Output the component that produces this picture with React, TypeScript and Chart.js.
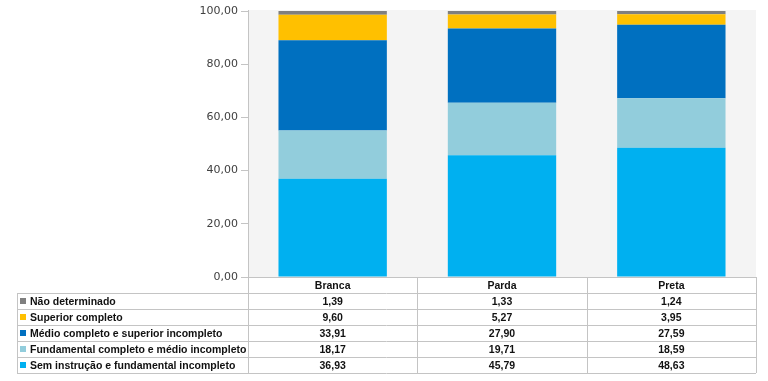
import React, { useEffect, useRef } from "react";
import { Chart, registerables } from "chart.js";

Chart.register(...registerables);

const categories = ["Branca", "Parda", "Preta"];
const semInstrucao = [36.93, 45.79, 48.63];
const fundamental = [18.17, 19.71, 18.59];
const medio = [33.91, 27.9, 27.59];
const superior = [9.6, 5.27, 3.95];
const naoDeterminado = [1.39, 1.33, 1.24];

const seriesLabels = [
  "Sem instrução e fundamental incompleto",
  "Fundamental completo e médio incompleto",
  "Médio completo e superior incompleto",
  "Superior completo",
  "Não determinado",
];
const seriesValues = [semInstrucao, fundamental, medio, superior, naoDeterminado];
const seriesColors = ["#00b0f0", "#92cddc", "#0070c0", "#ffc000", "#7f7f7f"];
const yTicks = [0, 20, 40, 60, 80, 100];

const fmt = (v: number) => v.toFixed(2).replace(".", ",");

const TABLE_FONT = "bold 10.5px 'Liberation Sans', Arial, sans-serif";
const LINE = "#c4c4c4";

const tablePlugin = {
  id: "dataTable",
  beforeDraw(chart: any) {
    const { ctx, chartArea } = chart;
    ctx.save();
    ctx.fillStyle = "#f4f4f4";
    ctx.fillRect(chartArea.left, chartArea.top - 1, chartArea.right - chartArea.left, chartArea.bottom - chartArea.top + 1);
    ctx.restore();
  },
  afterDraw(chart: any) {
    const { ctx, chartArea } = chart;
    const x = chart.scales.x;
    const n = categories.length;
    const catW = (chartArea.right - chartArea.left) / n;
    const left = 17;
    const colLeft = chartArea.left;
    const right = chartArea.right;
    const top = Math.round(chartArea.bottom);
    const rowH = 16;
    const rows = seriesLabels.length;
    const bottom = top + rowH * (rows + 1);
    const px = (v: number) => Math.round(v) + 0.5;

    ctx.save();
    ctx.strokeStyle = LINE;
    ctx.lineWidth = 1;
    ctx.beginPath();
    // header top
    ctx.moveTo(colLeft, px(top));
    ctx.lineTo(right, px(top));
    // horizontal lines
    for (let k = 1; k <= rows + 1; k++) {
      ctx.moveTo(left, px(top + rowH * k));
      ctx.lineTo(right, px(top + rowH * k));
    }
    // left border
    ctx.moveTo(px(left), top + rowH);
    ctx.lineTo(px(left), bottom);
    // column separators
    for (let i = 0; i <= n; i++) {
      const cx = colLeft + catW * i;
      ctx.moveTo(px(cx), i === 0 ? chartArea.top - 1 : top);
      ctx.lineTo(px(cx), bottom);
    }
    ctx.stroke();

    ctx.font = TABLE_FONT;
    ctx.fillStyle = "#111";
    ctx.textBaseline = "middle";
    ctx.textAlign = "center";
    categories.forEach((c, i) => {
      ctx.fillText(c, x.getPixelForValue(i), top + rowH / 2 + 1);
    });
    for (let r = 0; r < rows; r++) {
      const s = rows - 1 - r;
      const cy = top + rowH * (r + 1) + rowH / 2 + 1;
      ctx.textAlign = "center";
      ctx.fillStyle = "#111";
      seriesValues[s].forEach((v, i) => {
        ctx.fillText(fmt(v), x.getPixelForValue(i), cy);
      });
      ctx.fillStyle = seriesColors[s];
      ctx.fillRect(20, Math.round(cy - 4), 6, 6);
      ctx.fillStyle = "#111";
      ctx.textAlign = "left";
      ctx.fillText(seriesLabels[s], 30, cy);
    }
    ctx.restore();
  },
};

export default function App() {
  const ref = useRef<HTMLCanvasElement>(null);
  useEffect(() => {
    if (!ref.current) return;
    const chart = new Chart(ref.current, {
      type: "bar",
      data: {
        labels: categories,
        datasets: seriesLabels.map((label, i) => ({
          label,
          data: seriesValues[i],
          backgroundColor: seriesColors[i],
          borderWidth: 0,
          categoryPercentage: 0.8,
          barPercentage: 0.8,
        })),
      },
      options: {
        responsive: false,
        animation: false,
        layout: { padding: { top: 11, right: 12, bottom: 104, left: 0 } },
        plugins: { legend: { display: false }, tooltip: { enabled: false } },
        scales: {
          x: {
            stacked: true,
            display: false,
          },
          y: {
            stacked: true,
            min: 0,
            max: 100,
            afterFit: (scale: any) => {
              scale.width = 248;
            },
            afterBuildTicks: (scale: any) => {
              scale.ticks = yTicks.map((v) => ({ value: v }));
            },
            ticks: {
              padding: 3,
              color: "#404040",
              font: { family: "'DejaVu Sans', sans-serif", size: 11 },
              callback: (v: any) => fmt(Number(v)),
            },
            grid: {
              drawOnChartArea: false,
              drawTicks: true,
              tickLength: 7,
              color: LINE,
            },
            border: { display: true, color: LINE },
          },
        },
      },
      plugins: [tablePlugin],
    });
    return () => chart.destroy();
  }, []);
  return (
    <div style={{ position: "absolute", left: 0, top: 0, width: 768, height: 381, background: "#fff" }}>
      <canvas ref={ref} width={768} height={381} style={{ display: "block" }} />
    </div>
  );
}
